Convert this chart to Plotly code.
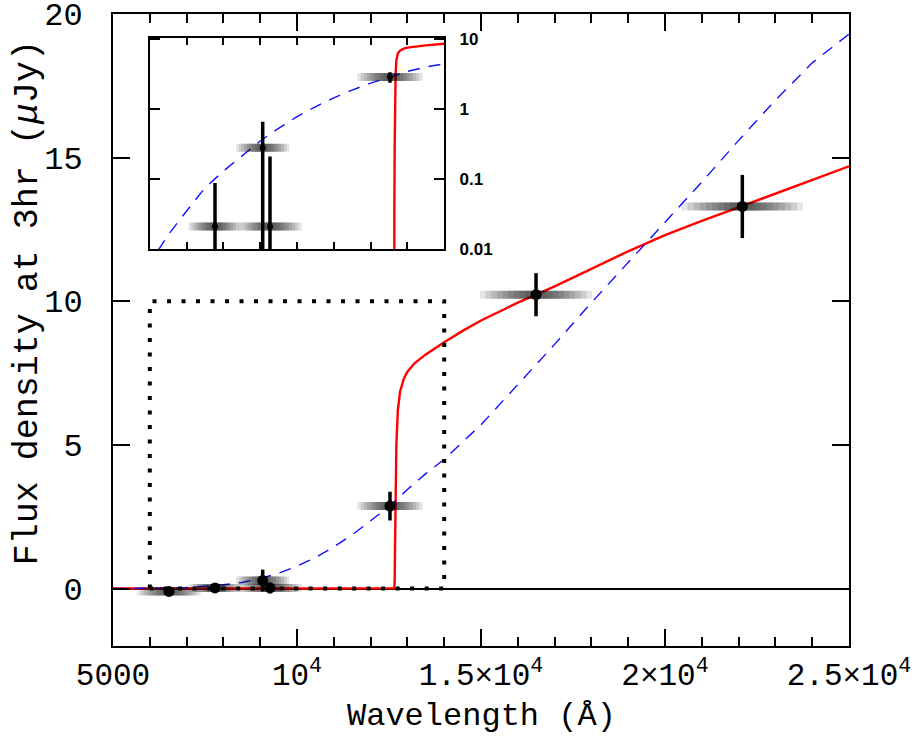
import plotly.graph_objects as go

# ---------------- data ----------------
# Afterglow model (red solid)
red_wave = [5000, 12600, 12630, 12645, 12655, 12665, 12680, 12700, 12740, 12800,
            12900, 13000, 13200, 13500, 14000, 14500, 15000, 15500, 16000, 16500,
            17000, 18000, 19000, 20000, 21000, 22000, 23000, 24000, 25000]
red_flux = [0.0, 0.0, 0.005, 0.03, 0.3, 1.5, 3.2, 5.0, 6.2, 6.85,
            7.3, 7.55, 7.85, 8.15, 8.57, 8.97, 9.33, 9.65, 9.95, 10.23,
            10.52, 11.13, 11.74, 12.3, 12.8, 13.27, 13.75, 14.23, 14.7]

# Alternative model (blue dashed)
blue_wave = [5000, 5500, 6000, 6250, 6500, 7000, 7500, 8000, 8500, 9000, 9500,
             10000, 10500, 11000, 11500, 12000, 12500, 13000, 13500, 14000, 15000,
             16000, 17000, 18000, 19000, 20000, 21000, 22000, 23000, 24000, 25000]
blue_flux = [0.0002, 0.001, 0.005, 0.01, 0.016, 0.035, 0.075, 0.13, 0.21, 0.35, 0.53,
             0.78, 1.08, 1.45, 1.87, 2.35, 2.85, 3.45, 4.0, 4.5, 5.7,
             7.1, 8.5, 9.95, 11.35, 12.75, 14.15, 15.6, 17.0, 18.3, 19.3]

# Photometry
phot_wave = [6522, 7772, 9068, 9266, 12527, 16495, 22101]
phot_flux = [-0.1, 0.021, 0.28, 0.021, 2.87, 10.23, 13.3]
phot_err = [0.1, 0.067, 0.38, 0.19, 0.5, 0.75, 1.1]
phot_halfwidth = [860, 720, 725, 864, 890, 1520, 1650]

# Zoom region shown in the inset
inset_x = [6000, 14000]
inset_y = [0, 10]

x_tickvals = [5000, 10000, 15000, 20000, 25000]
x_ticktext = ["5000", "10<sup>4</sup>", "1.5\u00d710<sup>4</sup>",
              "2\u00d710<sup>4</sup>", "2.5\u00d710<sup>4</sup>"]
y_tickvals = [0, 5, 10, 15, 20]
inset_tickvals = [0.01, 0.1, 1, 10]
inset_ticktext = ["0.01", "0.1", "1", "10"]

# ---------------- figure ----------------
MONO = "Liberation Mono, Courier New, monospace"
fig = go.Figure()

band_fracs = [1.0, 0.9, 0.8, 0.7, 0.6, 0.5, 0.4, 0.3, 0.2, 0.1]


def add_set(xa, ya, marker_size):
    xw = phot_wave
    yv = phot_flux
    # model curves
    fig.add_trace(go.Scatter(x=red_wave, y=red_flux, mode="lines",
                             line=dict(color="#ff0000", width=2.4),
                             xaxis=xa, yaxis=ya, hoverinfo="skip"))
    fig.add_trace(go.Scatter(x=blue_wave, y=blue_flux, mode="lines",
                             line=dict(color="#1010ff", width=1.4, dash="12px,9px"),
                             xaxis=xa, yaxis=ya, hoverinfo="skip"))
    if xa == "x":
        bx = [inset_x[0], inset_x[0], inset_x[1], inset_x[1], inset_x[0]]
        by = [inset_y[0], inset_y[1], inset_y[1], inset_y[0], inset_y[0]]
        fig.add_trace(go.Scatter(x=bx, y=by, mode="lines",
                                 line=dict(color="black", width=4, dash="4px,10.5px"),
                                 xaxis=xa, yaxis=ya, hoverinfo="skip"))
    # fuzzy filter-width bars
    for f in band_fracs:
        fig.add_trace(go.Scatter(
            x=xw, y=yv, mode="markers", marker=dict(size=1, opacity=0),
            error_x=dict(type="data", array=[h * f for h in phot_halfwidth],
                         symmetric=True, color="rgba(0,0,0,0.1)",
                         thickness=8, width=0),
            xaxis=xa, yaxis=ya, hoverinfo="skip"))
    # points with vertical errors
    fig.add_trace(go.Scatter(
        x=xw, y=yv, mode="markers",
        marker=dict(color="black", size=marker_size),
        error_y=dict(type="data", array=phot_err, symmetric=True,
                     color="black", thickness=3.5, width=0),
        xaxis=xa, yaxis=ya, hoverinfo="skip"))


add_set("x", "y", 11)
add_set("x2", "y2", 6)

axis_line = dict(showline=True, linecolor="black", linewidth=2, mirror="ticks",
                 showgrid=False, ticks="inside", tickcolor="black", tickwidth=2,
                 ticklabeloverflow="allow")

fig.update_layout(
    width=921, height=738,
    margin=dict(l=113, r=72, t=14, b=92, autoexpand=False),
    paper_bgcolor="white", plot_bgcolor="white",
    showlegend=False,
    xaxis=dict(domain=[0, 1], range=[5000, 25000], tickvals=x_tickvals,
               ticktext=x_ticktext, ticklen=17, zeroline=False,
               tickfont=dict(family=MONO, size=31, color="black"),
               ticklabelstandoff=0,
               minor=dict(dtick=1000, tick0=5000, ticklen=9, tickwidth=2,
                          ticks="inside", tickcolor="black", showgrid=False),
               **axis_line),
    yaxis=dict(domain=[0, 1], range=[-2, 20.0001], tickvals=y_tickvals, ticklen=17,
               zeroline=True, zerolinecolor="black", zerolinewidth=1.6,
               tickfont=dict(family=MONO, size=32, color="black"),
               ticklabelstandoff=22,
               **axis_line),
    xaxis2=dict(anchor="y2", domain=[(inset_x[0] - 5000) / 20000, (inset_x[1] - 5000) / 20000],
                range=inset_x, dtick=1000, tick0=6000, ticklen=7,
                showticklabels=False, zeroline=False, **axis_line),
    yaxis2=dict(anchor="x2", type="log", domain=[0.628, 0.9625], range=[-2, 1.02],
                side="right", tickvals=inset_tickvals, ticktext=inset_ticktext,
                ticklen=10, zeroline=False, ticklabelstandoff=10,
                tickfont=dict(family="Liberation Sans, Arial, sans-serif", size=17,
                              color="black", weight="bold"),
                **axis_line),
    annotations=[
        dict(text="Wavelength (\u00c5)", xref="paper", yref="paper",
             x=0.5, y=-0.1108, xanchor="center", yanchor="middle", showarrow=False,
             font=dict(family=MONO, size=32, color="black")),
        dict(text="Flux density at 3hr (<i>\u03bc</i>Jy)", xref="paper", yref="paper",
             x=-0.1155, y=0.544, xanchor="center", yanchor="middle", showarrow=False,
             textangle=-90, font=dict(family=MONO, size=35, color="black")),
    ],
)

fig.write_html("out.html", config={"displayModeBar": False},
               post_script="document.body.style.margin='0';document.body.style.padding='0';")
